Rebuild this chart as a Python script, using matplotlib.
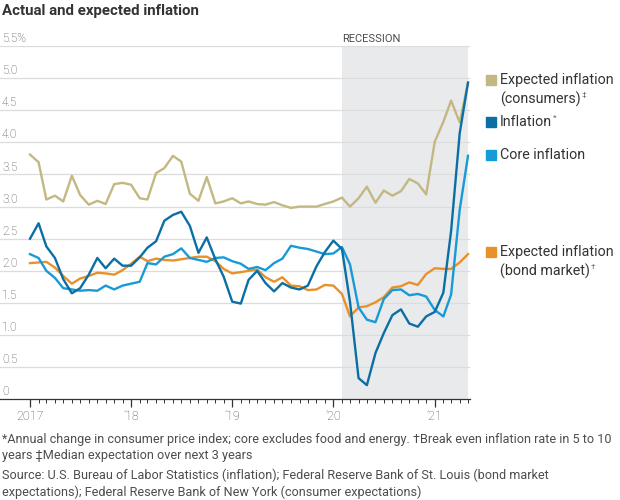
import matplotlib
matplotlib.use("Agg")
import matplotlib.pyplot as plt
import matplotlib.dates as mdates
from matplotlib.patches import Rectangle
from matplotlib.ticker import FixedLocator
import pandas as pd
import numpy as np

FONT = ['Roboto', 'DejaVu Sans']
plt.rcParams['font.family'] = FONT

dates = pd.date_range('2017-01-01', '2021-05-01', freq='MS')

inflation = [2.50, 2.74, 2.38, 2.20, 1.87, 1.65, 1.73, 1.94, 2.20, 2.04, 2.19, 2.08,
             2.08, 2.21, 2.36, 2.46, 2.78, 2.87, 2.92, 2.70, 2.28, 2.52, 2.18, 1.91,
             1.52, 1.49, 1.86, 2.00, 1.81, 1.68, 1.81, 1.74, 1.71, 1.77, 2.07, 2.29,
             2.47, 2.34, 1.52, 0.33, 0.22, 0.72, 1.03, 1.31, 1.40, 1.18, 1.13, 1.29,
             1.36, 1.66, 2.62, 4.14, 4.93]
core = [2.26, 2.20, 2.00, 1.89, 1.73, 1.71, 1.69, 1.70, 1.69, 1.77, 1.71, 1.77,
        1.80, 1.83, 2.12, 2.10, 2.22, 2.26, 2.35, 2.20, 2.17, 2.14, 2.20, 2.21,
        2.15, 2.11, 2.03, 2.06, 2.01, 2.12, 2.19, 2.39, 2.36, 2.34, 2.30, 2.26,
        2.27, 2.37, 2.10, 1.43, 1.24, 1.20, 1.56, 1.70, 1.71, 1.62, 1.64, 1.60,
        1.39, 1.29, 1.63, 2.95, 3.79]
bond = [2.12, 2.13, 2.14, 2.05, 1.92, 1.80, 1.88, 1.92, 1.97, 1.96, 1.94, 2.01,
        2.11, 2.22, 2.15, 2.19, 2.17, 2.16, 2.18, 2.20, 2.22, 2.22, 2.15, 2.03,
        1.96, 1.98, 2.00, 2.02, 1.90, 1.83, 1.90, 1.77, 1.76, 1.70, 1.71, 1.78,
        1.77, 1.64, 1.29, 1.43, 1.45, 1.51, 1.59, 1.74, 1.76, 1.82, 1.78, 1.95,
        2.04, 2.03, 2.03, 2.13, 2.26]
consumers = [3.81, 3.69, 3.11, 3.17, 3.08, 3.48, 3.18, 3.03, 3.09, 3.04, 3.35, 3.37,
             3.34, 3.13, 3.11, 3.52, 3.60, 3.79, 3.70, 3.20, 3.09, 3.46, 3.05, 3.08,
             3.13, 3.05, 3.08, 3.04, 3.03, 3.07, 3.02, 2.98, 3.00, 3.00, 3.00, 3.04,
             3.08, 3.14, 3.00, 3.13, 3.31, 3.06, 3.25, 3.17, 3.24, 3.43, 3.36, 3.19,
             4.01, 4.32, 4.65, 4.31, 4.93]

yticks = [0, 0.5, 1.0, 1.5, 2.0, 2.5, 3.0, 3.5, 4.0, 4.5, 5.0, 5.5]
ytick_labels = ['0', '0.5', '1.0', '1.5', '2.0', '2.5', '3.0', '3.5', '4.0', '4.5', '5.0', '5.5%']
xtick_dates = pd.to_datetime(['2017-01-01', '2018-01-01', '2019-01-01', '2020-01-01', '2021-01-01'])
xtick_labels = ['2017', "\u201918", "\u201919", "\u201920", "\u201921"]
recession = (pd.Timestamp('2020-02-01'), pd.Timestamp('2021-05-01'))

C_CONS = '#c3b882'
C_INFL = '#0b6fa4'
C_CORE = '#179bd7'
C_BOND = '#e8912a'
TXT = '#333333'
GREY = '#4d4d4d'

W, H = 620, 500
fig = plt.figure(figsize=(W / 100, H / 100), dpi=100)

def fx(x):
    return x / W

def fy(y):
    return 1 - y / H

ax_left, ax_right, ax_top, ax_bot = 0, 470, 46, 399.3
ax = fig.add_axes([fx(ax_left), fy(ax_bot), fx(ax_right - ax_left), (ax_bot - ax_top) / H])

d0 = mdates.date2num(dates[0])
d1 = mdates.date2num(dates[-1])
scale = (d1 - d0) / (468 - 30)
ax.set_xlim(d0 - (30 - ax_left) * scale, d1 + (ax_right - 468) * scale)
ax.set_ylim(0, 5.5)

ax.axvspan(recession[0], recession[1], color='#e9eaec', lw=0, zorder=0)
ax.text(recession[0], 5.53, 'RECESSION', transform=ax.transData, ha='left', va='bottom',
        fontsize=8, color=GREY, family=FONT)

for v in yticks[1:]:
    ax.axhline(v, color='#dcdcdc', lw=0.9, zorder=1)
for v, lab in zip(yticks, ytick_labels):
    ax.text(0.004, v + 0.015, lab, transform=ax.get_yaxis_transform(), ha='left', va='bottom',
            fontsize=8.5, color=GREY, family=FONT, fontweight='light')

lw = 1.7
ax.plot(dates, consumers, color=C_CONS, lw=lw, zorder=3)
ax.plot(dates, bond, color=C_BOND, lw=lw, zorder=3)
ax.plot(dates, core, color=C_CORE, lw=lw, zorder=4)
ax.plot(dates, inflation, color=C_INFL, lw=lw, zorder=5)

for s in ['top', 'right', 'left']:
    ax.spines[s].set_visible(False)
ax.spines['bottom'].set_color(TXT)
ax.spines['bottom'].set_linewidth(0.9)
ax.spines['bottom'].set_zorder(6)
ax.set_yticks([])
ax.set_xticks(xtick_dates)
ax.set_xticklabels(xtick_labels, fontweight='light')
ax.xaxis.set_minor_locator(FixedLocator(mdates.date2num(dates)))
ax.tick_params(axis='x', which='major', length=6, width=0.9, color=TXT,
               labelsize=9, labelcolor=GREY, pad=2)
ax.tick_params(axis='x', which='minor', length=3, width=0.7, color=TXT)

fig.text(fx(2), fy(11), 'Actual and expected inflation', ha='left', va='center',
         fontsize=10.8, fontweight='bold', color=TXT, family=FONT)

# legend: (colour, [(line text, superscript)], y px)
leg_items = [
    (C_CONS, [('Expected inflation', None), ('(consumers)', '\u2021')], 80),
    (C_INFL, [('Inflation', '*')], 122),
    (C_CORE, [('Core inflation', None)], 155),
    (C_BOND, [('Expected inflation', None), ('(bond market)', '\u2020')], 252),
]
fig.canvas.draw()
renderer = fig.canvas.get_renderer()
for color, lines, ypx in leg_items:
    fig.patches.append(Rectangle((fx(486), fy(ypx + 5)), fx(10), 10 / H, color=color,
                                 transform=fig.transFigure, figure=fig))
    for i, (line, sup) in enumerate(lines):
        yl = ypx + i * 19
        t = fig.text(fx(500), fy(yl), line, ha='left', va='center',
                     fontsize=10.3, color=TXT, family=FONT)
        if sup:
            bb = t.get_window_extent(renderer)
            fig.text(bb.x1 / W + fx(1), fy(yl - 4), sup, ha='left', va='center',
                     fontsize=6, color='#666666', family=FONT)

notes = [
    ('*Annual change in consumer price index; core excludes food and energy. \u2020Break even inflation rate in 5 to 10', 439),
    ('years \u2021Median expectation over next 3 years', 456),
    ('Source: U.S. Bureau of Labor Statistics (inflation); Federal Reserve Bank of St. Louis (bond market', 475),
    ('expectations); Federal Reserve Bank of New York (consumer expectations)', 492),
]
for txt, ypx in notes:
    fig.text(fx(2), fy(ypx), txt, ha='left', va='center', fontsize=9.05, color=GREY,
             family=FONT)

fig.savefig('out.png', dpi=100, facecolor='white')
